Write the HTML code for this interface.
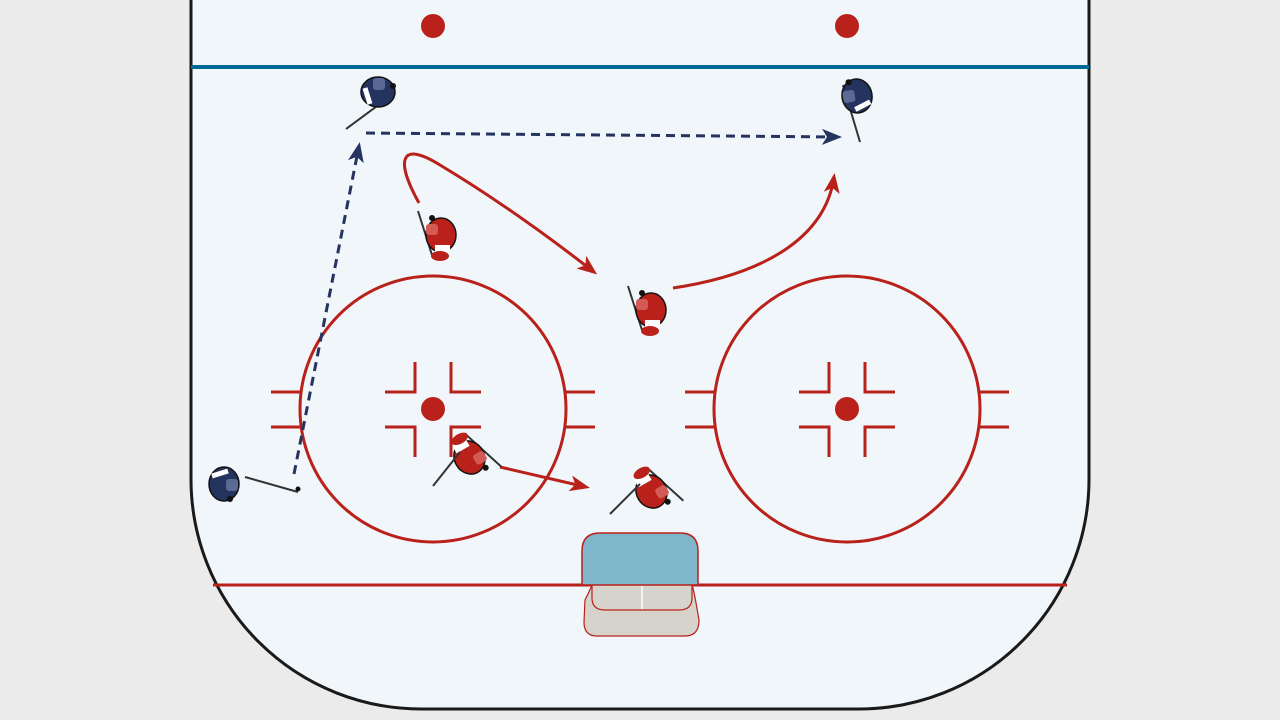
<!DOCTYPE html>
<html><head><style>body{margin:0;background:#ebebeb}svg{display:block}</style></head><body>
<svg width="1280" height="720" viewBox="0 0 1280 720" xmlns="http://www.w3.org/2000/svg">
<defs>
<marker id="ar" markerWidth="20" markerHeight="16" refX="16" refY="8" orient="auto" markerUnits="userSpaceOnUse" viewBox="0 0 20 16"><path d="M0,0 L20,8 L0,16 L5,8z" fill="#b9211a"/></marker>
<marker id="ab" markerWidth="20" markerHeight="16" refX="16" refY="8" orient="auto" markerUnits="userSpaceOnUse" viewBox="0 0 20 16"><path d="M0,0 L20,8 L0,16 L5,8z" fill="#24345f"/></marker>
<g id="red">
<path d="M-20,-24 L-6,20" stroke="#333" stroke-width="2" fill="none"/>
<ellipse cx="3" cy="0" rx="15" ry="17" fill="#b9211a" stroke="#111" stroke-width="1.5"/>
<rect x="-12" y="-11" width="12" height="11" rx="3" fill="#d45a55"/>
<rect x="-3" y="10" width="15" height="8" fill="#fff"/>
<ellipse cx="2" cy="21" rx="9" ry="5" fill="#b9211a"/>
<circle cx="-6" cy="-17" r="3" fill="#111"/>
</g>
<g id="blue">
<ellipse cx="0" cy="0" rx="17" ry="15" fill="#24345f" stroke="#111" stroke-width="1.5"/>
<rect x="-7" y="2" width="12" height="12" rx="3" fill="#5a6a95"/>
<path d="M8,-12 L13,4" stroke="#fff" stroke-width="5"/>
<circle cx="-15" cy="6" r="3" fill="#111"/>
</g>
</defs>
<rect width="1280" height="720" fill="#ebebeb"/>
<path d="M191,-5 L191,480 A230,230 0 0 0 421,709 L859,709 A230,230 0 0 0 1089,480 L1089,-5z" fill="#f0f6fa" stroke="#1a1a1a" stroke-width="3"/>
<line x1="191" y1="67" x2="1089" y2="67" stroke="#006a94" stroke-width="4"/>
<line x1="213" y1="585" x2="1067" y2="585" stroke="#b9211a" stroke-width="3"/>
<g fill="#b9211a"><circle cx="433" cy="26" r="12"/><circle cx="847" cy="26" r="12"/><circle cx="433" cy="409" r="12"/><circle cx="847" cy="409" r="12"/></g>
<g stroke="#b9211a" stroke-width="3" fill="none">
<circle cx="433" cy="409" r="133"/><circle cx="847" cy="409" r="133"/>
<path d="M271,392h29M271,427h29M566,392h29M566,427h29M685,392h29M685,427h29M980,392h29M980,427h29"/>
<path d="M415,362v30h-30M451,362v30h30M415,457v-30h-30M451,457v-30h30"/>
<path d="M829,362v30h-30M865,362v30h30M829,457v-30h-30M865,457v-30h30"/>
</g>
<path d="M585,600 Q590,590 592,585 L692,585 Q694,590 699,620 Q699,636 685,636 L597,636 Q584,636 584,622z" fill="#d6d3cc" stroke="#b9211a" stroke-width="1.2"/>
<path d="M592,585 L592,598 Q592,610 605,610 L679,610 Q692,610 692,598 L692,585" fill="#d6d3cc" stroke="#b9211a" stroke-width="1.2"/>
<line x1="642" y1="586" x2="642" y2="609" stroke="#fff" stroke-width="1.5"/>
<path d="M582,585 L582,551 Q582,533 600,533 L680,533 Q698,533 698,551 L698,585z" fill="#80b6cc" stroke="#b9211a" stroke-width="1.5"/>
<g stroke="#24345f" stroke-width="3" stroke-dasharray="9,6" fill="none">
<path d="M294,474 L359,146" marker-end="url(#ab)"/>
<path d="M366,133 L838,137" marker-end="url(#ab)"/>
</g>
<g stroke="#b9211a" stroke-width="3" fill="none">
<path d="M419,203 C395,160 400,140 440,165 C490,195 540,230 594,272" marker-end="url(#ar)"/>
<path d="M673,288 C760,275 825,240 834,177" marker-end="url(#ar)"/>
<path d="M500,467 L586,487" marker-end="url(#ar)"/>
</g>
<path d="M245,477 L298,492" stroke="#333" stroke-width="2"/><circle cx="298" cy="489" r="2.5" fill="#111"/>
<use href="#blue" transform="translate(224,484) rotate(-90)"/>
<path d="M346,129 L388,98" stroke="#333" stroke-width="2"/>
<use href="#blue" transform="translate(378,92) rotate(180)"/>
<path d="M843,85 L860,142" stroke="#333" stroke-width="2"/>
<use href="#blue" transform="translate(857,96) rotate(80)"/>
<use href="#red" transform="translate(438,235)"/>
<use href="#red" transform="translate(648,310)"/>
<use href="#red" transform="translate(472,456) rotate(150)"/>
<use href="#red" transform="translate(654,490) rotate(150)"/>
<path d="M433,486 L460,452" stroke="#333" stroke-width="2"/>
<path d="M610,514 L640,484" stroke="#333" stroke-width="2"/>
</svg>
</body></html>
